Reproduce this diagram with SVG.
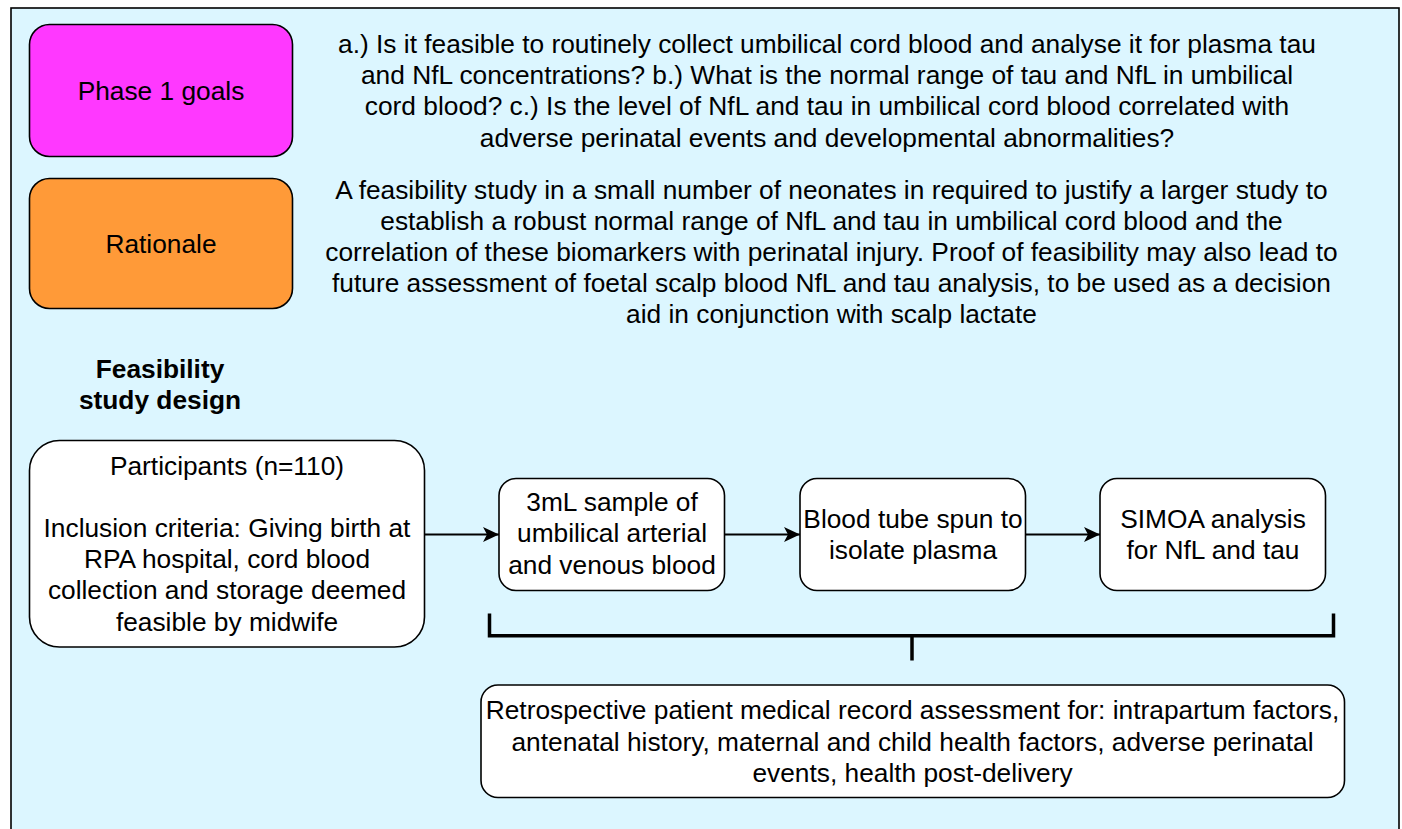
<svg xmlns="http://www.w3.org/2000/svg" width="1402" height="829" viewBox="0 0 1402 829">
<style>
  text { font-family: "Liberation Sans", Arial, Helvetica, sans-serif; font-size: 26.3px; fill: #000; text-anchor: middle; }
  .box { stroke: #000; stroke-width: 1.6; }
  .white { fill: #fff; }
  .conn { stroke: #000; stroke-width: 2; fill: none; }
  .bracket { stroke: #000; stroke-width: 3.5; fill: none; }
  .bold { font-weight: bold; }
</style>
<defs>
  <marker id="arrow" markerUnits="userSpaceOnUse" markerWidth="18" markerHeight="16" refX="16" refY="7.5" orient="auto">
    <path d="M16,7.5 L0,0 L4,7.5 L0,15 Z" fill="#000"/>
  </marker>
</defs>
<rect id="container" x="11" y="8" width="1388" height="900" fill="#dcf6ff" stroke="#000" stroke-width="1.6"/>

<g id="phase1">
  <rect class="box" x="29.5" y="24.5" width="263" height="132" rx="20" fill="#ff38ff"/>
  <text x="161" y="99.5">Phase 1 goals</text>
</g>
<g id="goals-text">
  <text x="827" y="52.9">a.) Is it feasible to routinely collect umbilical cord blood and analyse it for plasma tau</text>
  <text x="827" y="84.1">and NfL concentrations? b.) What is the normal range of tau and NfL in umbilical</text>
  <text x="827" y="115.3">cord blood? c.) Is the level of NfL and tau in umbilical cord blood correlated with</text>
  <text x="827" y="146.5">adverse perinatal events and developmental abnormalities?</text>
</g>
<g id="rationale">
  <rect class="box" x="29.5" y="178.5" width="263" height="130" rx="20" fill="#ff9a38"/>
  <text x="161" y="252.5">Rationale</text>
</g>
<g id="rationale-text">
  <text x="831.5" y="198.5">A feasibility study in a small number of neonates in required to justify a larger study to</text>
  <text x="831.5" y="229.7">establish a robust normal range of NfL and tau in umbilical cord blood and the</text>
  <text x="831.5" y="260.9">correlation of these biomarkers with perinatal injury. Proof of feasibility may also lead to</text>
  <text x="831.5" y="292.1">future assessment of foetal scalp blood NfL and tau analysis, to be used as a decision</text>
  <text x="831.5" y="323.3">aid in conjunction with scalp lactate</text>
</g>
<g id="design-title">
  <text class="bold" x="160" y="377.5">Feasibility</text>
  <text class="bold" x="160" y="408.7">study design</text>
</g>
<g id="participants">
  <rect class="box white" x="29.5" y="440.5" width="395" height="206.5" rx="30"/>
  <text x="227" y="474.5">Participants (n=110)</text>
  <text x="227" y="536.9">Inclusion criteria: Giving birth at</text>
  <text x="227" y="568.1">RPA hospital, cord blood</text>
  <text x="227" y="599.3">collection and storage deemed</text>
  <text x="227" y="630.5">feasible by midwife</text>
</g>
<g id="sample">
  <rect class="box white" x="499" y="478.5" width="225.5" height="112" rx="17"/>
  <text x="612" y="511">3mL sample of</text>
  <text x="612" y="542.3">umbilical arterial</text>
  <text x="612" y="573.6">and venous blood</text>
</g>
<g id="spin">
  <rect class="box white" x="800" y="478.5" width="225.5" height="112" rx="17"/>
  <text x="913" y="528">Blood tube spun to</text>
  <text x="913" y="559.2">isolate plasma</text>
</g>
<g id="simoa">
  <rect class="box white" x="1100" y="478.5" width="225.5" height="112" rx="17"/>
  <text x="1213" y="528">SIMOA analysis</text>
  <text x="1213" y="559.2">for NfL and tau</text>
</g>
<g id="retrospective">
  <rect class="box white" x="481" y="685" width="863.5" height="112.5" rx="17"/>
  <text x="912.5" y="719.3">Retrospective patient medical record assessment for: intrapartum factors,</text>
  <text x="912.5" y="750.5">antenatal history, maternal and child health factors, adverse perinatal</text>
  <text x="912.5" y="781.7">events, health post-delivery</text>
</g>
<g id="connectors">
  <line class="conn" x1="424.5" y1="534.5" x2="499" y2="534.5" marker-end="url(#arrow)"/>
  <line class="conn" x1="724.5" y1="534.5" x2="800" y2="534.5" marker-end="url(#arrow)"/>
  <line class="conn" x1="1025.5" y1="534.5" x2="1100" y2="534.5" marker-end="url(#arrow)"/>
  <path class="bracket" d="M489.5,613.5 V635.8 H1333.5 V613.5"/>
  <line class="bracket" x1="912" y1="635.8" x2="912" y2="660.5"/>
</g>
</svg>
